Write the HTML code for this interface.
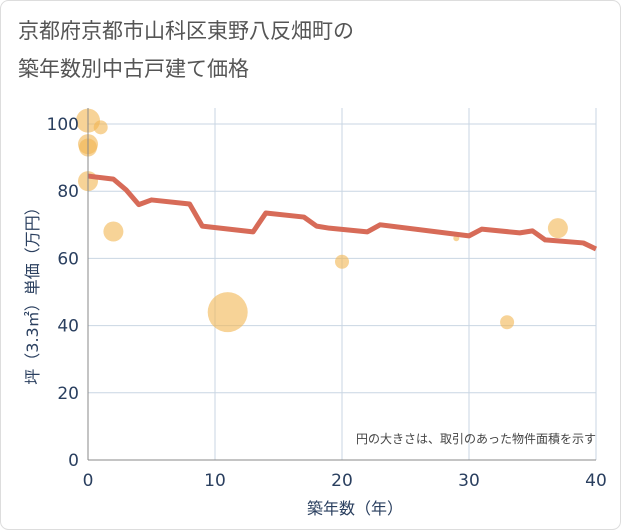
<!DOCTYPE html>
<html><head><meta charset="utf-8"><style>
body{margin:0;background:#fff;}
svg{display:block;font-family:"DejaVu Sans","Noto Sans CJK JP",sans-serif;}
</style></head><body>
<svg width="621" height="530">
<rect x="0.5" y="0.5" width="620" height="529" rx="8" fill="#fff" stroke="#ddd"/>
<text x="18" y="38" font-size="21" fill="#555">京都府京都市山科区東野八反畑町の</text>
<text x="18" y="76" font-size="21" fill="#555">築年数別中古戸建て価格</text>
<g id="grid"></g>
<g id="bubbles"></g>
<g id="line"></g>
<g id="axes"></g>
<text x="596" y="443" font-size="12" fill="#444" text-anchor="end">円の大きさは、取引のあった物件面積を示す</text>
<text x="355" y="514" font-size="16" fill="#2a3f5f" text-anchor="middle">築年数（年）</text>
<text transform="translate(38,292) rotate(-90)" font-size="16" fill="#2a3f5f" text-anchor="middle">坪（3.3㎡）単価（万円）</text>
</svg>
<script>
const xTicks=[0,10,20,30,40];
const yTicks=[0,20,40,60,80,100];
const lineYears=[0,2,3,4,5,8,9,13,14,17,18,19,22,23,30,31,34,35,36,39,40];
const lineValues=[84.5,83.6,80.4,76,77.4,76.2,69.6,67.9,73.5,72.3,69.6,69,67.9,70,66.7,68.7,67.6,68.2,65.5,64.6,62.8];
const bubbleYears=[0,1,0,0,0,2,11,20,29,33,37];
const bubbleValues=[101,99,94,93,83,68,44,59,66,41,69];
const bubbleSizes=[12,7,10,9,10,10,20,7,3,7,10];
const X0=88,X1=596,Y0=460,Y1=124;
const sx=v=>X0+(v/40)*(X1-X0);
const sy=v=>Y0-(v/100)*(Y0-Y1);
const ns="http://www.w3.org/2000/svg";
function mk(t,a,p){const e=document.createElementNS(ns,t);for(const k in a)e.setAttribute(k,a[k]);p.appendChild(e);return e;}
const g=document.getElementById('grid'),ax=document.getElementById('axes');
xTicks.forEach(t=>{const l=mk('line',{x1:sx(t),x2:sx(t),y1:108,y2:Y0,stroke:'#c9d6e3','stroke-width':1},g);

const tx=mk('text',{x:sx(t),y:486,'font-size':17,fill:'#2a3f5f','text-anchor':'middle'},ax);tx.textContent=t;
});
yTicks.forEach(t=>{const l=mk('line',{x1:X0,x2:X1,y1:sy(t),y2:sy(t),stroke:'#c9d6e3','stroke-width':1},g);

const tx=mk('text',{x:79,y:sy(t)+6,'font-size':17,fill:'#2a3f5f','text-anchor':'end'},ax);tx.textContent=t;
});
const a1=mk('line',{x1:X0,x2:X0,y1:108,y2:Y0,stroke:'#888'},ax);

const a2=mk('line',{x1:X0,x2:X1,y1:Y0,y2:Y0,stroke:'#888'},ax);

const bg=document.getElementById('bubbles');
bubbleYears.forEach((y,i)=>{const c=mk('circle',{cx:sx(y),cy:sy(bubbleValues[i]),r:bubbleSizes[i],fill:'#f2b552','fill-opacity':0.6},bg);
});
const pts=lineYears.map((y,i)=>sx(y)+','+sy(lineValues[i])).join(' ');
const pl=mk('polyline',{points:pts,fill:'none',stroke:'#d76b58','stroke-width':5,'stroke-linejoin':'round'},document.getElementById('line'));

</script>
</body></html>
